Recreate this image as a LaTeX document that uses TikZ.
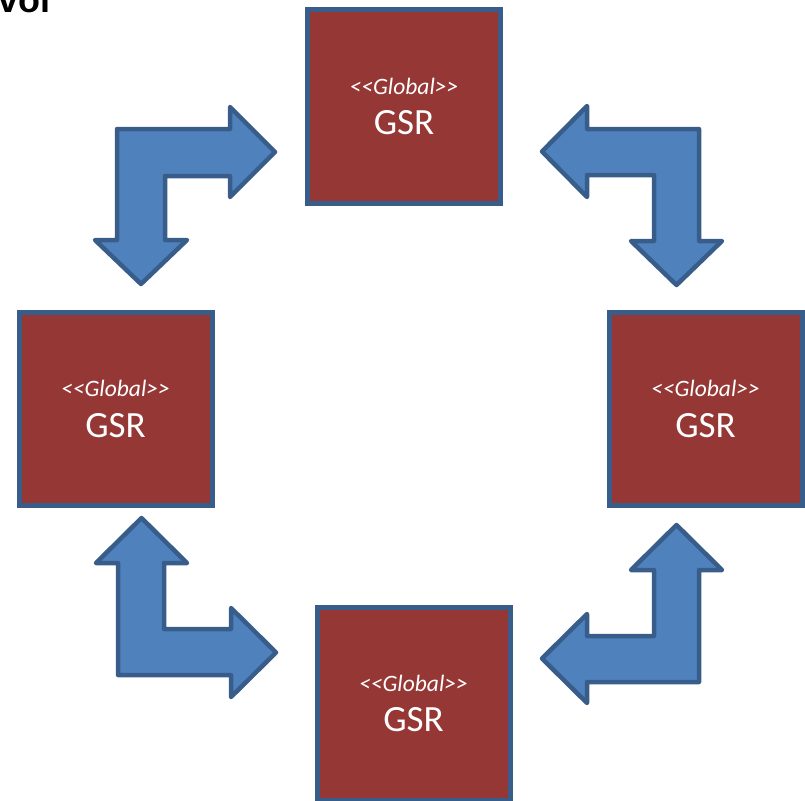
\documentclass[tikz,border=0pt]{standalone}
\usepackage{fontspec}
\usetikzlibrary{calc}
\newfontfamily\calib{Carlito}[Ligatures=ResetAll]
\newfontfamily\arialish{Liberation Sans}
\definecolor{boxred}{HTML}{953735}
\definecolor{edgeblue}{HTML}{385D8A}
\definecolor{arrowblue}{HTML}{4F81BD}
\tikzset{
  gsrbox/.style={draw=edgeblue, fill=boxred, line width=5pt, rectangle,
    minimum width=193pt, minimum height=193pt, inner sep=0pt},
  stereo/.style={text=white, font=\calib\itshape\fontsize{23.5}{25}\selectfont,
    anchor=base, inner sep=0pt},
  gsrname/.style={text=white, font=\calib\fontsize{37}{40}\selectfont,
    anchor=base, inner sep=0pt},
  bendarrow/.style={draw=edgeblue, fill=arrowblue, line width=4.5pt,
    line join=round}
}
\begin{document}
\begin{tikzpicture}[x=1pt, y=-1pt]
  \useasboundingbox (0,0) rectangle (805,800);

  % heading text running off the top edge
  \node[anchor=base west, inner sep=0pt,
    font=\arialish\bfseries\fontsize{36}{38}\selectfont] (head) at (-1.5,13) {vol};

  % the four GSR boxes
  \node[gsrbox] (top)    at (404,106.5) {};
  \node[gsrbox] (left)   at (115.5,409) {};
  \node[gsrbox] (right)  at (705.5,409) {};
  \node[gsrbox] (bottom) at (413.5,703.5) {};

  \foreach \b in {top,left,right,bottom}{
    \node[stereo]  (\b-st) at ($(\b.center)+(0,-12.5)$) {<<Global>>};
    \node[gsrname] (\b-nm) at ($(\b.center)+(0,28)$)  {GSR};
  }

  % bent two-headed block arrows between neighbouring boxes
  % top-left: left box <-> top box
  \draw[bendarrow] (117,129) -- (230,129) -- (230,107) -- (275,152)
    -- (230,197) -- (230,176) -- (165,176) -- (165,240) -- (187,240)
    -- (141,284) -- (95,240) -- (117,240) -- cycle;
  % top-right: top box <-> right box
  \draw[bendarrow] (699,129) -- (587,129) -- (587,106) -- (542,151.5)
    -- (587,197) -- (587,175) -- (654,175) -- (654,241) -- (631,241)
    -- (676.5,285) -- (722,241) -- (699,241) -- cycle;
  % bottom-left: left box <-> bottom box
  \draw[bendarrow] (118,675) -- (231,675) -- (231,697) -- (276,652.5)
    -- (231,608) -- (231,629) -- (164,629) -- (164,563) -- (187,563)
    -- (141.5,518) -- (96,563) -- (118,563) -- cycle;
  % bottom-right: bottom box <-> right box
  \draw[bendarrow] (699,682) -- (587,682) -- (587,703) -- (542,658.5)
    -- (587,614) -- (587,636) -- (654,636) -- (654,570) -- (631,570)
    -- (676.5,525) -- (722,570) -- (699,570) -- cycle;
\end{tikzpicture}
\end{document}
